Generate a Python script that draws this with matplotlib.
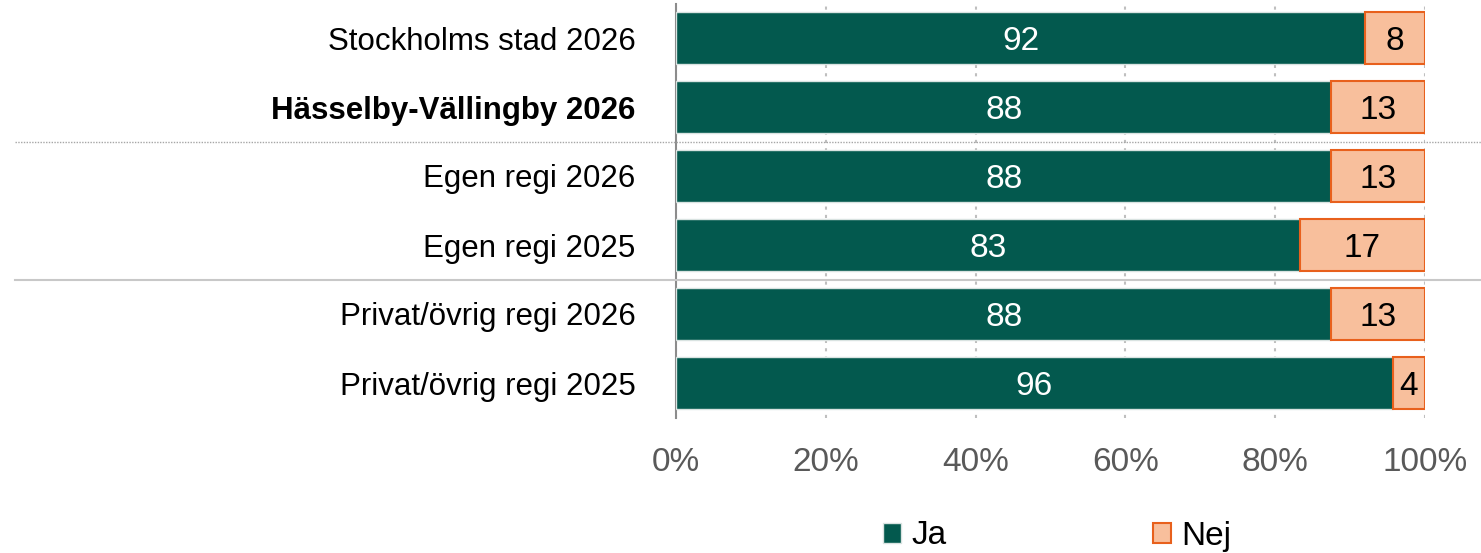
import matplotlib
matplotlib.use("Agg")
import matplotlib.pyplot as plt
from matplotlib.patches import Patch
from matplotlib.lines import Line2D
import matplotlib.transforms as mtransforms
import math

plt.rcParams['font.family'] = ['Liberation Sans', 'DejaVu Sans']

categories = ["Stockholms stad 2026", "Hässelby-Vällingby 2026", "Egen regi 2026",
              "Egen regi 2025", "Privat/övrig regi 2026", "Privat/övrig regi 2025"]
ja = [92, 87.5, 87.5, 83.3, 87.5, 95.7]
nej = [8, 12.5, 12.5, 16.7, 12.5, 4.3]
xticks = [0, 20, 40, 60, 80, 100]
xticklabels = ["0%", "20%", "40%", "60%", "80%", "100%"]
bold_category = "Hässelby-Vällingby 2026"
separators_after = [1, 3]

JA_COLOR = "#03594E"
NEJ_COLOR = "#F8BF9C"
NEJ_EDGE = "#E8601C"

W, H = 1481, 553
fig = plt.figure(figsize=(W / 100, H / 100), dpi=100)
ax = fig.add_axes([676 / W, 1 - 417.5 / H, (1425 - 676) / W, (417.5 - 3.5) / H])

y = list(range(len(categories)))
ax.barh(y, ja, height=0.76, color=JA_COLOR, edgecolor="#D9E3E1", linewidth=1.0, zorder=3)
ax.barh(y, nej, left=ja, height=0.76, color=NEJ_COLOR, edgecolor=NEJ_EDGE, linewidth=1.5, zorder=3)

def lab(v):
    return str(int(math.floor(v + 0.5)))

for i in y:
    ax.text(ja[i] / 2, i, lab(ja[i]), ha="center", va="center_baseline", color="white", fontsize=24, zorder=4)
    ax.text(ja[i] + nej[i] / 2, i, lab(nej[i]), ha="center", va="center_baseline", color="black", fontsize=24, zorder=4)

ax.set_xlim(0, 100)
ax.set_ylim(len(categories) - 0.5, -0.5)
ax.set_yticks(y)
ax.set_yticklabels(categories, fontsize=22.5)
for t in ax.get_yticklabels():
    if t.get_text() == bold_category:
        t.set_fontweight("bold")
ax.tick_params(axis="y", length=0, pad=29)
ax.set_xticks(xticks)
ax.set_xticklabels(xticklabels, fontsize=24, color="#595959")
ax.tick_params(axis="x", length=0, pad=21)

for s in ["top", "right", "bottom"]:
    ax.spines[s].set_visible(False)
ax.spines["left"].set_color("#8C8C8C")
ax.spines["left"].set_linewidth(1.5)

ax.xaxis.grid(True, linestyle=(0, (1.5, 2.5)), color="#BFBFBF", linewidth=1.5, zorder=0)
ax.set_axisbelow(True)

trans = mtransforms.blended_transform_factory(fig.transFigure, ax.transData)
styles = [dict(linestyle=(0, (1, 1)), color="#A6A6A6", linewidth=1.0),
          dict(linestyle="-", color="#C8C8C8", linewidth=1.5)]
for k, s in enumerate(separators_after):
    ln = Line2D([15 / W, 1.0], [s + 0.5, s + 0.5], transform=trans, clip_on=False, zorder=5, **styles[k])
    fig.add_artist(ln)

handles = [Patch(facecolor=JA_COLOR, edgecolor="#D9E3E1", label="Ja"),
           Patch(facecolor=NEJ_COLOR, edgecolor=NEJ_EDGE, linewidth=1.5, label="Nej")]
fig.legend(handles=handles, loc="center", bbox_to_anchor=(1057 / W, 1 - 536 / H), ncol=2,
           frameon=False, fontsize=24, handlelength=0.55, handleheight=0.55, handletextpad=0.3,
           columnspacing=6.2, borderpad=0, borderaxespad=0)

fig.savefig("out.png", dpi=100)
